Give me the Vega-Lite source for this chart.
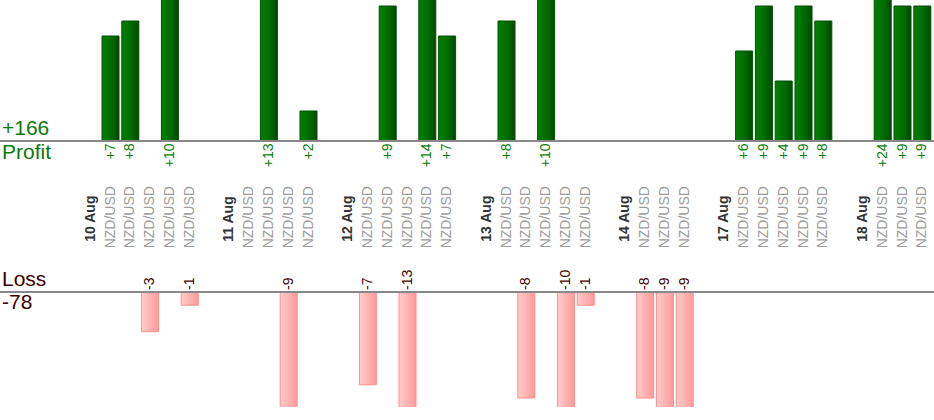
{
  "$schema": "https://vega.github.io/schema/vega-lite/v6.json",
  "width": 934,
  "height": 407,
  "padding": 0,
  "autosize": "none",
  "background": "white",
  "config": {"view": {"stroke": null}, "text": {"font": "Liberation Sans"}, "scale": {"continuousPadding": 0}},
  "datasets": {
    "trades": [
      {"slot": 5, "pair": "NZD/USD", "pnl": 7},
      {"slot": 6, "pair": "NZD/USD", "pnl": 8},
      {"slot": 7, "pair": "NZD/USD", "pnl": -3},
      {"slot": 8, "pair": "NZD/USD", "pnl": 10},
      {"slot": 9, "pair": "NZD/USD", "pnl": -1},
      {"slot": 12, "pair": "NZD/USD", "pnl": 0},
      {"slot": 13, "pair": "NZD/USD", "pnl": 13},
      {"slot": 14, "pair": "NZD/USD", "pnl": -9},
      {"slot": 15, "pair": "NZD/USD", "pnl": 2},
      {"slot": 18, "pair": "NZD/USD", "pnl": -7},
      {"slot": 19, "pair": "NZD/USD", "pnl": 9},
      {"slot": 20, "pair": "NZD/USD", "pnl": -13},
      {"slot": 21, "pair": "NZD/USD", "pnl": 14},
      {"slot": 22, "pair": "NZD/USD", "pnl": 7},
      {"slot": 25, "pair": "NZD/USD", "pnl": 8},
      {"slot": 26, "pair": "NZD/USD", "pnl": -8},
      {"slot": 27, "pair": "NZD/USD", "pnl": 10},
      {"slot": 28, "pair": "NZD/USD", "pnl": -10},
      {"slot": 29, "pair": "NZD/USD", "pnl": -1},
      {"slot": 32, "pair": "NZD/USD", "pnl": -8},
      {"slot": 33, "pair": "NZD/USD", "pnl": -9},
      {"slot": 34, "pair": "NZD/USD", "pnl": -9},
      {"slot": 37, "pair": "NZD/USD", "pnl": 6},
      {"slot": 38, "pair": "NZD/USD", "pnl": 9},
      {"slot": 39, "pair": "NZD/USD", "pnl": 4},
      {"slot": 40, "pair": "NZD/USD", "pnl": 9},
      {"slot": 41, "pair": "NZD/USD", "pnl": 8},
      {"slot": 44, "pair": "NZD/USD", "pnl": 24},
      {"slot": 45, "pair": "NZD/USD", "pnl": 9},
      {"slot": 46, "pair": "NZD/USD", "pnl": 9}
    ],
    "days": [
      {"slot": 4, "day": "10 Aug"},
      {"slot": 11, "day": "11 Aug"},
      {"slot": 17, "day": "12 Aug"},
      {"slot": 24, "day": "13 Aug"},
      {"slot": 31, "day": "14 Aug"},
      {"slot": 36, "day": "17 Aug"},
      {"slot": 43, "day": "18 Aug"}
    ]
  },
  "resolve": {"scale": {"y": "independent"}},
  "layer": [
    {
      "data": {"name": "trades"},
      "transform": [{"filter": "datum.pnl > 0"}],
      "mark": {
        "type": "bar", "width": 17, "clip": true, "stroke": "#005000", "strokeWidth": 1,
        "fill": {"gradient": "linear", "x1": 0, "y1": 0, "x2": 1, "y2": 0,
          "stops": [{"offset": 0, "color": "#008200"}, {"offset": 0.6, "color": "#006800"}, {"offset": 1, "color": "#004800"}]}
      },
      "encoding": {
        "x": {"field": "slot", "type": "quantitative", "scale": {"domain": [-0.581, 46.59], "nice": false, "zero": false, "padding": 0}, "axis": null},
        "y": {"field": "pnl", "type": "quantitative", "scale": {"domain": [-17.733, 9.4], "nice": false, "zero": false}, "axis": null},
        "y2": {"datum": 0}
      }
    },
    {
      "data": {"name": "trades"},
      "transform": [{"filter": "datum.pnl > 0"}, {"calculate": "'+' + datum.pnl", "as": "label"}],
      "mark": {"type": "text", "angle": 270, "align": "right", "baseline": "middle", "fontSize": 14, "color": "#0a7f0a"},
      "encoding": {
        "x": {"field": "slot", "type": "quantitative", "scale": {"domain": [-0.581, 46.59], "nice": false, "zero": false, "padding": 0}, "axis": null},
        "y": {"datum": -0.167, "type": "quantitative", "scale": {"domain": [-17.733, 9.4], "nice": false, "zero": false}, "axis": null},
        "text": {"field": "label"}
      }
    },
    {
      "data": {"name": "trades"},
      "mark": {"type": "text", "angle": 270, "align": "left", "baseline": "middle", "fontSize": 14, "color": "#9c9c9c"},
      "encoding": {
        "x": {"field": "slot", "type": "quantitative", "scale": {"domain": [-0.581, 46.59], "nice": false, "zero": false, "padding": 0}, "axis": null},
        "y": {"datum": -7.153, "type": "quantitative", "scale": {"domain": [-17.733, 9.4], "nice": false, "zero": false}, "axis": null},
        "text": {"field": "pair"}
      }
    },
    {
      "data": {"name": "days"},
      "mark": {"type": "text", "angle": 270, "align": "left", "baseline": "middle", "fontSize": 14, "fontWeight": "bold", "color": "#333333"},
      "encoding": {
        "x": {"field": "slot", "type": "quantitative", "scale": {"domain": [-0.581, 46.59], "nice": false, "zero": false, "padding": 0}, "axis": null},
        "y": {"datum": -6.713, "type": "quantitative", "scale": {"domain": [-17.733, 9.4], "nice": false, "zero": false}, "axis": null},
        "text": {"field": "day"}
      }
    },
    {
      "data": {"name": "trades"},
      "mark": {"type": "rule", "color": "#888888", "strokeWidth": 1},
      "encoding": {
        "y": {"datum": 0, "type": "quantitative", "scale": {"domain": [-17.733, 9.4], "nice": false, "zero": false}, "axis": null}
      }
    },
    {
      "data": {"name": "trades"},
      "transform": [{"filter": "datum.pnl > 0"}, {"aggregate": [{"op": "sum", "field": "pnl", "as": "total"}]}, {"calculate": "'+' + datum.total", "as": "label"}],
      "mark": {"type": "text", "align": "left", "baseline": "alphabetic", "fontSize": 21, "color": "#0a7a0a"},
      "encoding": {
        "x": {"datum": -0.48, "type": "quantitative", "scale": {"domain": [-0.581, 46.59], "nice": false, "zero": false, "padding": 0}, "axis": null},
        "y": {"datum": 0.4, "type": "quantitative", "scale": {"domain": [-17.733, 9.4], "nice": false, "zero": false}, "axis": null},
        "text": {"field": "label"}
      }
    },
    {
      "data": {"values": [{"word": "Profit"}]},
      "mark": {"type": "text", "align": "left", "baseline": "alphabetic", "fontSize": 21, "color": "#0a7a0a"},
      "encoding": {
        "x": {"datum": -0.48, "type": "quantitative", "scale": {"domain": [-0.581, 46.59], "nice": false, "zero": false, "padding": 0}, "axis": null},
        "y": {"datum": -1.167, "type": "quantitative", "scale": {"domain": [-17.733, 9.4], "nice": false, "zero": false}, "axis": null},
        "text": {"field": "word"}
      }
    },
    {
      "data": {"name": "trades"},
      "transform": [{"filter": "datum.pnl < 0"}],
      "mark": {
        "type": "bar", "width": 17, "clip": true, "stroke": "#ff8e8e", "strokeWidth": 1,
        "fill": {"gradient": "linear", "x1": 0, "y1": 0, "x2": 1, "y2": 0,
          "stops": [{"offset": 0, "color": "#ffcccc"}, {"offset": 1, "color": "#ff9a9a"}]}
      },
      "encoding": {
        "x": {"field": "slot", "type": "quantitative", "scale": {"domain": [-0.581, 46.59], "nice": false, "zero": false, "padding": 0}, "axis": null},
        "y": {"field": "pnl", "type": "quantitative", "scale": {"domain": [-8.679, 22.04], "nice": false, "zero": false}, "axis": null},
        "y2": {"datum": 0}
      }
    },
    {
      "data": {"name": "trades"},
      "transform": [{"filter": "datum.pnl < 0"}, {"calculate": "'-' + abs(datum.pnl)", "as": "label"}],
      "mark": {"type": "text", "angle": 270, "align": "left", "baseline": "middle", "fontSize": 14, "color": "#3d0000"},
      "encoding": {
        "x": {"field": "slot", "type": "quantitative", "scale": {"domain": [-0.581, 46.59], "nice": false, "zero": false, "padding": 0}, "axis": null},
        "y": {"datum": 0.151, "type": "quantitative", "scale": {"domain": [-8.679, 22.04], "nice": false, "zero": false}, "axis": null},
        "text": {"field": "label"}
      }
    },
    {
      "data": {"name": "trades"},
      "mark": {"type": "rule", "color": "#888888", "strokeWidth": 1},
      "encoding": {
        "y": {"datum": 0, "type": "quantitative", "scale": {"domain": [-8.679, 22.04], "nice": false, "zero": false}, "axis": null}
      }
    },
    {
      "data": {"values": [{"word": "Loss"}]},
      "mark": {"type": "text", "align": "left", "baseline": "alphabetic", "fontSize": 21, "color": "#3d0000"},
      "encoding": {
        "x": {"datum": -0.48, "type": "quantitative", "scale": {"domain": [-0.581, 46.59], "nice": false, "zero": false, "padding": 0}, "axis": null},
        "y": {"datum": 0.49, "type": "quantitative", "scale": {"domain": [-8.679, 22.04], "nice": false, "zero": false}, "axis": null},
        "text": {"field": "word"}
      }
    },
    {
      "data": {"name": "trades"},
      "transform": [{"filter": "datum.pnl < 0"}, {"aggregate": [{"op": "sum", "field": "pnl", "as": "total"}]}, {"calculate": "'-' + abs(datum.total)", "as": "label"}],
      "mark": {"type": "text", "align": "left", "baseline": "alphabetic", "fontSize": 21, "color": "#3d0000"},
      "encoding": {
        "x": {"datum": -0.48, "type": "quantitative", "scale": {"domain": [-0.581, 46.59], "nice": false, "zero": false, "padding": 0}, "axis": null},
        "y": {"datum": -1.245, "type": "quantitative", "scale": {"domain": [-8.679, 22.04], "nice": false, "zero": false}, "axis": null},
        "text": {"field": "label"}
      }
    }
  ]
}
